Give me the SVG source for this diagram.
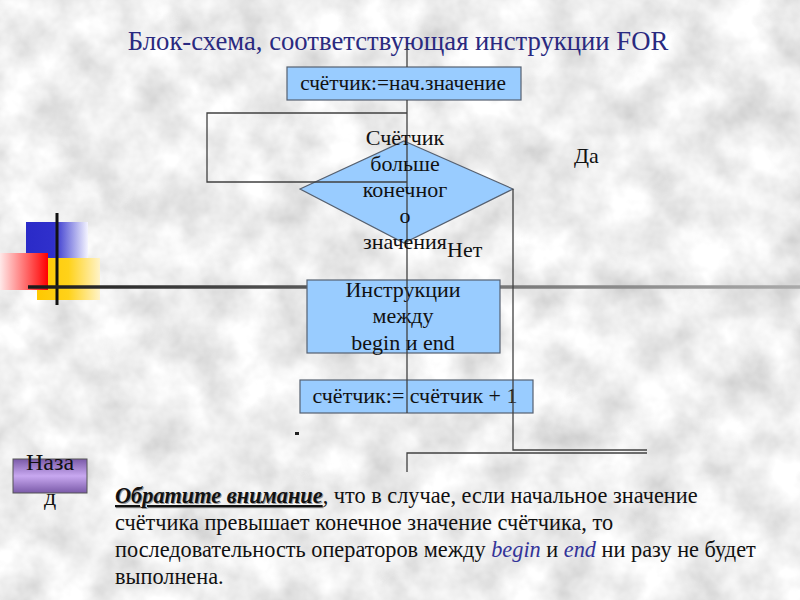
<svg xmlns="http://www.w3.org/2000/svg" width="800" height="600" viewBox="0 0 800 600">
<defs>
<filter id="marble" x="0" y="0" width="800" height="600" filterUnits="userSpaceOnUse">
<feTurbulence type="fractalNoise" baseFrequency="0.022" numOctaves="4" seed="7"/>
<feColorMatrix type="matrix" values="0.6 0 0 0 0.56  0.6 0 0 0 0.56  0.6 0 0 0 0.56  0 0 0 0 1"/>
</filter>
<linearGradient id="gBlue" x1="0" y1="0" x2="1" y2="0"><stop offset="0" stop-color="#2a2ac8"/><stop offset="0.45" stop-color="#3030cc"/><stop offset="1" stop-color="#f4f4ff"/></linearGradient>
<linearGradient id="gYellow" x1="0" y1="0" x2="1" y2="0"><stop offset="0" stop-color="#ffc800"/><stop offset="0.5" stop-color="#ffd21a"/><stop offset="1" stop-color="#fff3c8"/></linearGradient>
<linearGradient id="gRed" x1="0" y1="0" x2="1" y2="0"><stop offset="0" stop-color="#ffe8e8"/><stop offset="1" stop-color="#ff0000"/></linearGradient>
<linearGradient id="gPurple" x1="0" y1="0" x2="0" y2="1"><stop offset="0" stop-color="#7a5aa8"/><stop offset="0.5" stop-color="#c8a8f0"/><stop offset="1" stop-color="#7a5aa8"/></linearGradient>
<linearGradient id="gBar" gradientUnits="userSpaceOnUse" x1="28" y1="0" x2="800" y2="0"><stop offset="0" stop-color="#1a1a1a"/><stop offset="0.35" stop-color="#555"/><stop offset="1" stop-color="#aaa"/></linearGradient>
</defs>
<style>
text{font-family:'Liberation Serif','DejaVu Serif','Times New Roman',serif}
.box{fill:#99ccff;stroke:#556070;stroke-width:1.2}
.t{font-size:22px;fill:#111}
.p{font-size:22.3px;fill:#111}
.c{text-anchor:middle}
.ln{fill:none;stroke:#404040;stroke-width:1.3}
.blue{fill:#333399;font-style:italic}
.em{font-weight:bold;font-style:italic;text-decoration:underline}
</style>
<rect x="0" y="0" width="800" height="600" fill="#dcdcdc"/>
<rect x="0" y="0" width="800" height="600" filter="url(#marble)"/>

<g id="logo">
<rect x="26" y="222" width="62" height="38" fill="url(#gBlue)"/>
<rect x="37" y="258" width="63" height="42" fill="url(#gYellow)"/>
<rect x="0" y="253" width="48" height="37" fill="url(#gRed)"/>
<line x1="57" y1="213" x2="57" y2="305" stroke="#111" stroke-width="3"/>
<line x1="28" y1="287" x2="800" y2="287" stroke="url(#gBar)" stroke-width="3.5"/>
</g>

<text id="title" x="398" y="50" class="c" style="font-size:26.7px;fill:#2a2a80">Блок-схема, соответствующая инструкции FOR</text>

<g id="init">
<rect class="box" x="287" y="67" width="234" height="33"/>
<text class="t c" x="403" y="90" style="font-size:21.3px">счётчик:=нач.значение</text>
</g>

<g id="cond">
<polygon points="404,141 513,189 404,243 300,189" fill="#99ccff" stroke="#556070" stroke-width="1.2"/>
</g>

<g id="body">
<rect class="box" x="307" y="280" width="193" height="73"/>
<text class="t c" x="403" y="297">Инструкции</text>
<text class="t c" x="403" y="323">между</text>
<text class="t c" x="403" y="350">begin и end</text>
</g>

<g id="incr">
<rect class="box" x="300" y="380" width="233" height="33"/>
<text class="t c" x="415" y="403">счётчик:= счётчик + 1</text>
</g>

<g id="connectors">
<path class="ln" d="M407,46 V67"/>
<path class="ln" d="M407,100 V413"/>
<path class="ln" d="M407,113 H207 V182 H407"/>
<path class="ln" d="M513,189 V450 H647"/>
<path class="ln" d="M407,472 V453 H647"/>
<rect x="295" y="432" width="4" height="3" fill="#222"/>
</g>

<g id="condtext">
<text class="t c" x="405" y="145">Счётчик</text>
<text class="t c" x="405" y="171">больше</text>
<text class="t c" x="405" y="197">конечног</text>
<text class="t c" x="405" y="223">о</text>
<text class="t c" x="405" y="249">значения</text>
<text class="t" x="447" y="257">Нет</text>
<text class="t" x="574" y="163">Да</text>
</g>

<g id="back">
<rect x="13" y="459" width="74" height="34" fill="url(#gPurple)" stroke="#555" stroke-width="1"/>
<text class="t c" x="50" y="470" style="font-size:24px">Наза</text>
<text class="t c" x="50" y="505" style="font-size:24px">д</text>
</g>

<g id="note">
<text class="p em" x="116" y="504" style="fill:#999">Обратите внимание</text>
<text class="p" x="115" y="503"><tspan class="em">Обратите внимание</tspan>, что в случае, если начальное значение</text>
<text class="p" x="115" y="530">счётчика превышает конечное значение счётчика, то</text>
<text class="p" x="115" y="557">последовательность операторов между <tspan class="blue">begin</tspan> и <tspan class="blue">end</tspan> ни разу не будет</text>
<text class="p" x="115" y="584">выполнена.</text>
</g>
</svg>
